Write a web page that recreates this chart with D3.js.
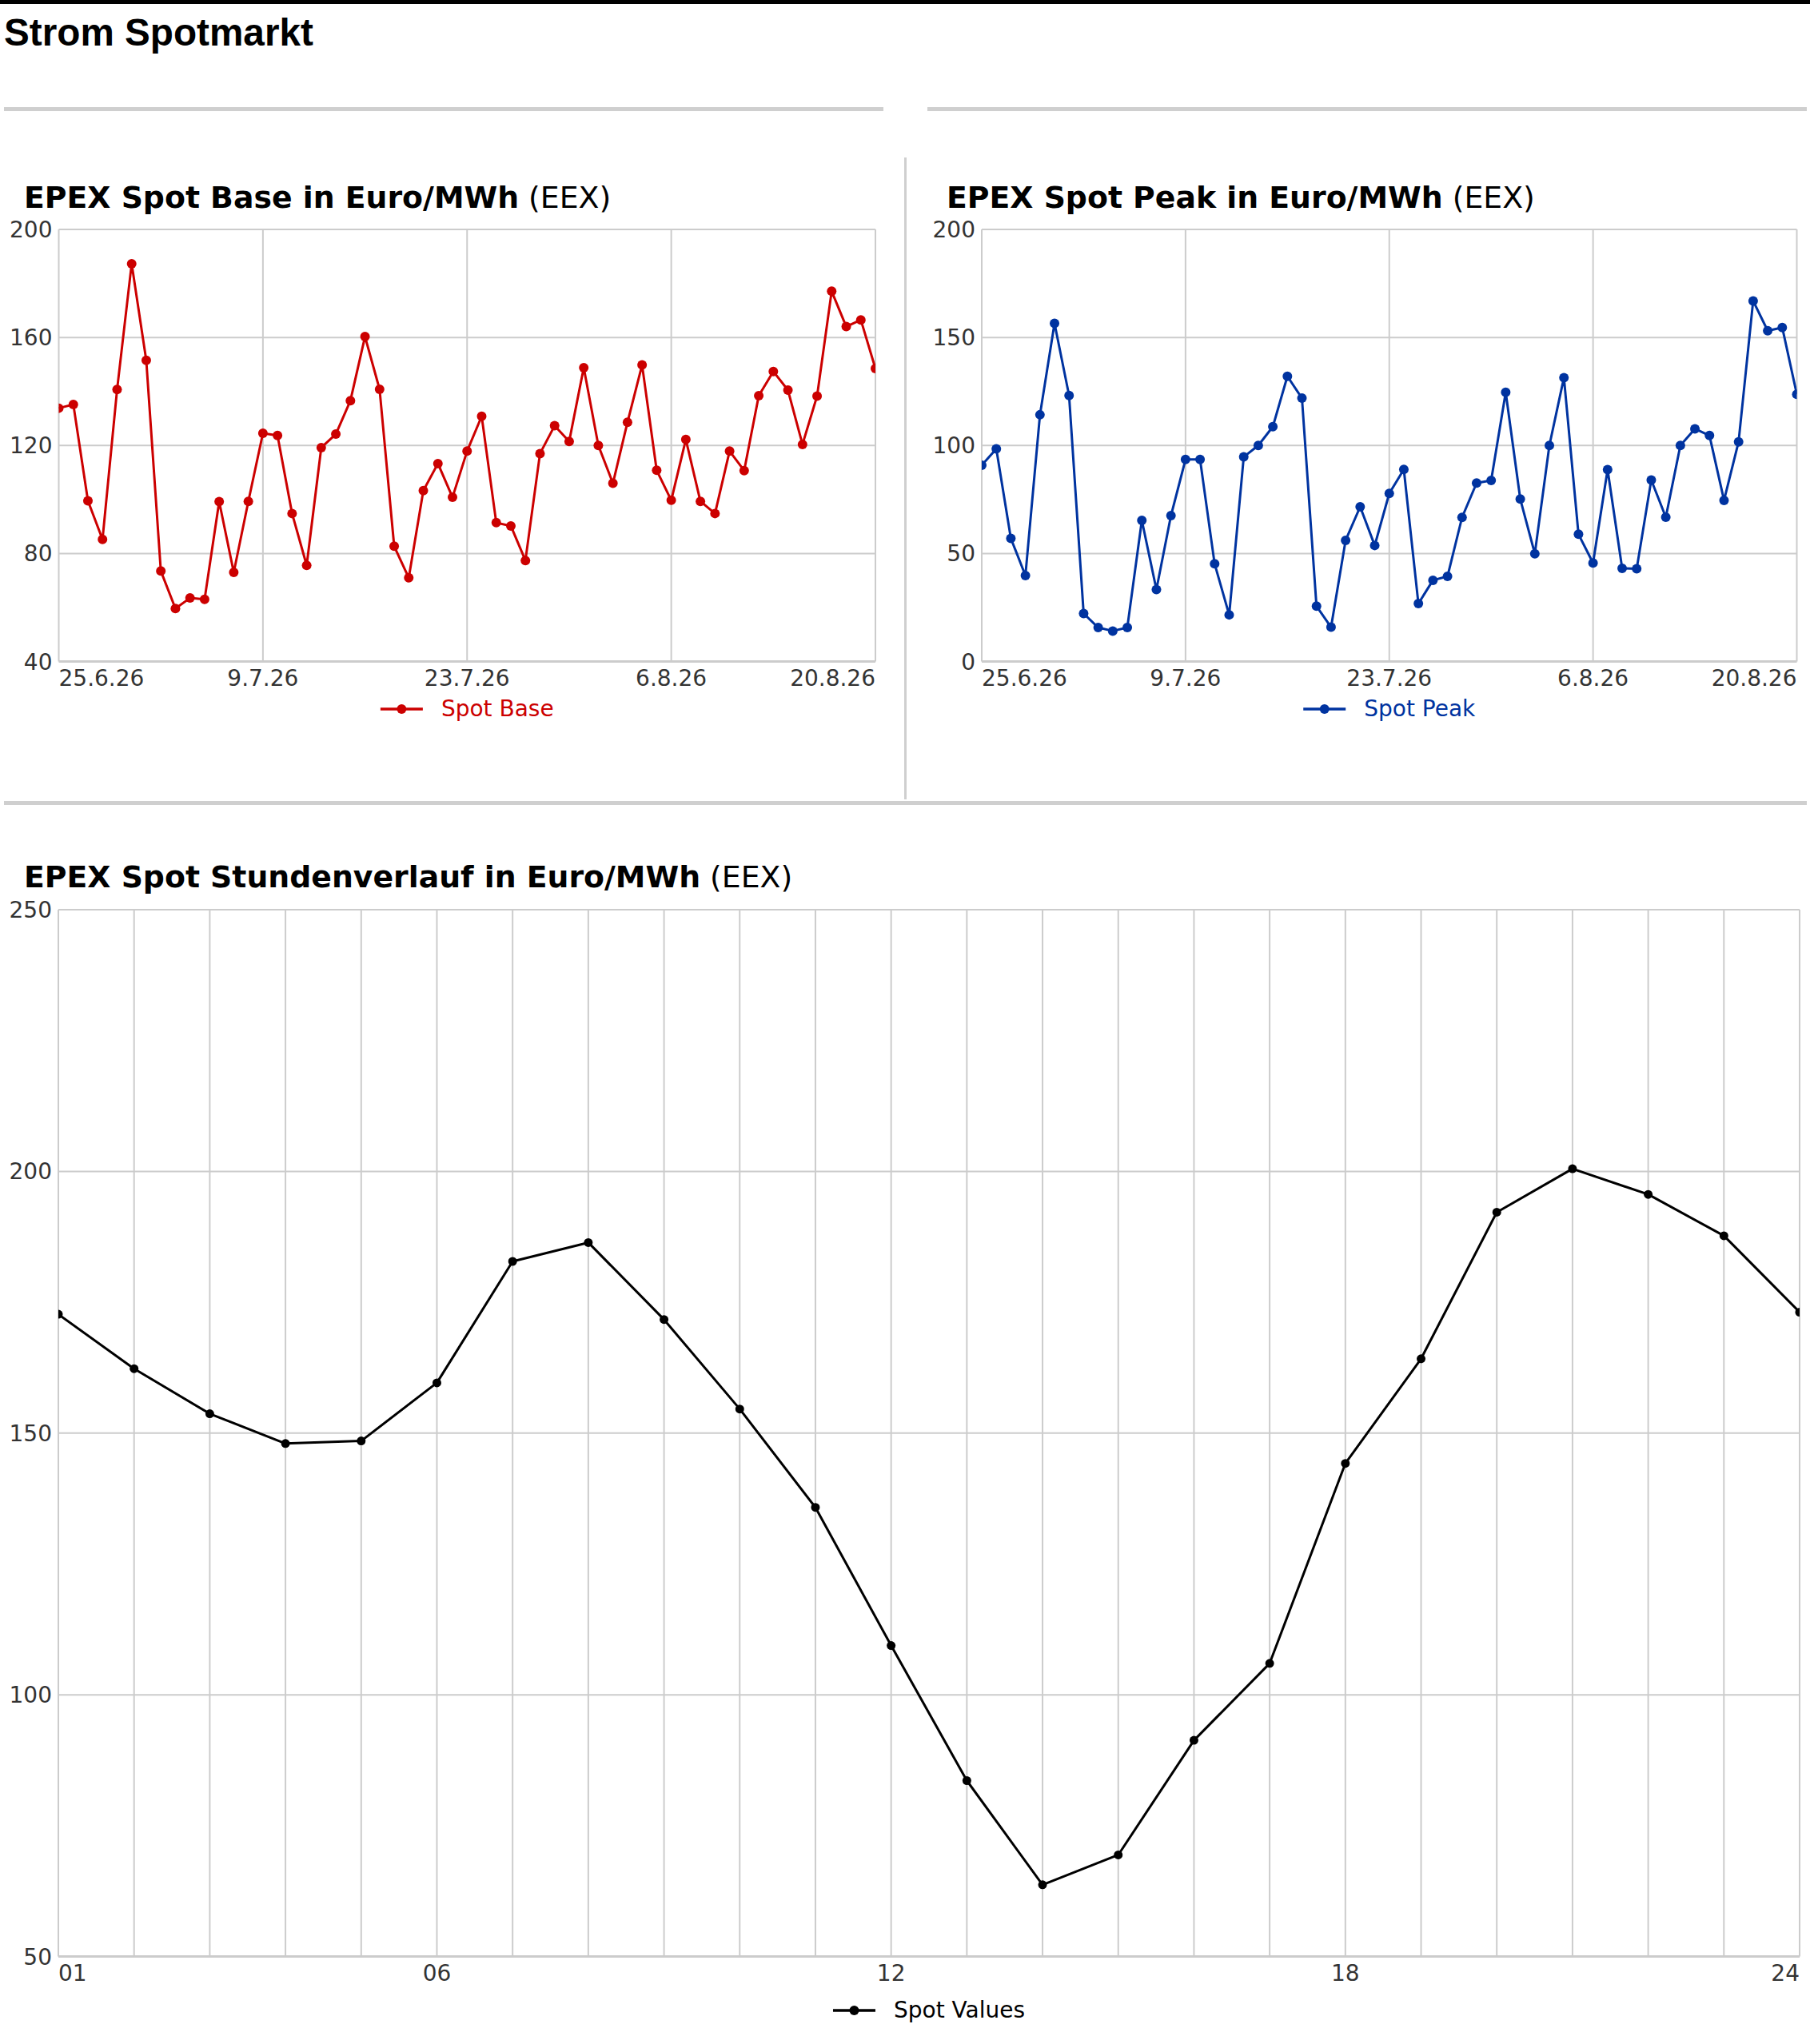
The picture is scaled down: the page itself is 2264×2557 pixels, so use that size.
<!DOCTYPE html>
<html>
<head>
<meta charset="utf-8">
<script src="https://cdn.jsdelivr.net/npm/d3@7"></script>
<style>
  body { margin: 0; background: #fff; }
  .tick-label { font-family: "DejaVu Sans", sans-serif; font-size: 28px; fill: #333; }
  .panel-title { font-family: "DejaVu Sans", sans-serif; font-size: 37.8px; fill: #000; }
  .legend-text { font-family: "DejaVu Sans", sans-serif; font-size: 28px; }
</style>
</head>
<body>
<div id="page"></div>
<script>
// Data
// =================================
var baseStart = new Date(2026, 5, 25);   // 25.6.26
var baseEnd = new Date(2026, 7, 20);     // 20.8.26
var dateTicks = [new Date(2026, 5, 25), new Date(2026, 6, 9), new Date(2026, 6, 23),
                 new Date(2026, 7, 6), new Date(2026, 7, 20)];

var baseValues = [133.8, 135.2, 99.5, 85.2, 140.7, 187.3, 151.5, 73.5, 59.6, 63.5,
                  63.0, 99.2, 73.0, 99.3, 124.5, 123.7, 94.8, 75.6, 119.2, 124.2,
                  136.6, 160.3, 140.8, 82.7, 71.0, 103.3, 113.3, 100.8, 117.9, 130.8,
                  91.4, 90.2, 77.4, 117.0, 127.3, 121.5, 148.8, 120.0, 106.0, 128.6,
                  149.8, 110.8, 99.7, 122.2, 99.3, 94.8, 117.9, 110.7, 138.4, 147.4,
                  140.5, 120.4, 138.3, 177.1, 164.0, 166.5, 148.5];

var peakValues = [90.8, 98.4, 57.0, 39.8, 114.2, 156.5, 123.1, 22.2, 15.7, 14.1,
                  15.7, 65.3, 33.3, 67.5, 93.5, 93.5, 45.2, 21.6, 94.7, 100.0,
                  108.7, 132.0, 121.9, 25.6, 15.9, 56.1, 71.6, 53.7, 77.8, 88.9,
                  26.8, 37.6, 39.4, 66.7, 82.6, 83.8, 124.6, 75.2, 49.9, 100.0,
                  131.4, 58.9, 45.6, 88.8, 43.1, 42.9, 84.0, 66.8, 100.0, 107.7,
                  104.6, 74.6, 101.7, 166.9, 153.1, 154.6, 123.7];

var hours = d3.range(1, 25);
var hourTicks = [1, 6, 12, 18, 24];
var hourValues = [172.7, 162.3, 153.7, 148.0, 148.5, 159.6, 182.8, 186.4, 171.7, 154.6,
                  135.8, 109.4, 83.6, 63.7, 69.4, 91.3, 106.0, 144.2, 164.2, 192.2,
                  200.5, 195.6, 187.7, 173.1];

var baseTicks = [40, 80, 120, 160, 200];
var peakTicks = [0, 50, 100, 150, 200];
var hourValueTicks = [50, 100, 150, 200, 250];

// Step 1: page wrapper
// =================================
var svgWidth = 2264;
var svgHeight = 2557;

var svg = d3.select("#page")
    .append("svg")
    .attr("width", svgWidth)
    .attr("height", svgHeight);

// top black rule and page title
svg.append("rect").attr("x", 0).attr("y", 0).attr("width", svgWidth).attr("height", 5).attr("fill", "#000");
svg.append("text")
    .attr("x", 5).attr("y", 57)
    .attr("font-family", "'Liberation Sans', Arial, sans-serif")
    .attr("font-weight", "bold")
    .attr("font-size", 47.7)
    .text("Strom Spotmarkt");

// grey separators
var sep = "#cfcfcf";
svg.append("rect").attr("x", 5).attr("y", 134).attr("width", 1100).attr("height", 5).attr("fill", sep);
svg.append("rect").attr("x", 1160).attr("y", 134).attr("width", 1100).attr("height", 5).attr("fill", sep);
svg.append("rect").attr("x", 1131).attr("y", 197).attr("width", 3).attr("height", 803).attr("fill", sep);
svg.append("rect").attr("x", 5).attr("y", 1002).attr("width", 2255).attr("height", 5).attr("fill", sep);

// Step 2: one function per chart panel
// =================================
function drawPanel(opt) {
    var g = svg.append("g");

    // title: bold part + normal "(EEX)"
    var title = g.append("text")
        .attr("class", "panel-title")
        .attr("x", opt.titleX)
        .attr("y", opt.titleY);
    title.append("tspan").attr("font-weight", "bold").text(opt.title);
    title.append("tspan").text(" (EEX)");

    var x = opt.xScale;
    var y = d3.scaleLinear()
        .domain(opt.yDomain)
        .range([opt.bottom, opt.top]);

    // horizontal grid
    g.append("g").selectAll("line")
        .data(opt.yTicks)
        .enter()
        .append("line")
        .attr("x1", opt.left).attr("x2", opt.right)
        .attr("y1", d => y(d)).attr("y2", d => y(d))
        .attr("stroke", "#cccccc")
        .attr("stroke-width", (d, i) => i === 0 ? 3 : 2);

    // vertical grid
    g.append("g").selectAll("line")
        .data(opt.xGrid)
        .enter()
        .append("line")
        .attr("x1", d => x(d)).attr("x2", d => x(d))
        .attr("y1", opt.top).attr("y2", opt.bottom)
        .attr("stroke", "#cccccc")
        .attr("stroke-width", 2);

    // y labels
    g.append("g").selectAll("text")
        .data(opt.yTicks)
        .enter()
        .append("text")
        .attr("class", "tick-label")
        .attr("x", opt.left - 8)
        .attr("y", d => y(d))
        .attr("dy", "0.36em")
        .attr("text-anchor", "end")
        .text(d => d);

    // x labels: first starts at the left edge, last ends at the right edge
    var n = opt.xTicks.length;
    g.append("g").selectAll("text")
        .data(opt.xTicks)
        .enter()
        .append("text")
        .attr("class", "tick-label")
        .attr("x", d => x(d))
        .attr("y", opt.bottom + 30)
        .attr("text-anchor", (d, i) => i === 0 ? "start" : (i === n - 1 ? "end" : "middle"))
        .text(opt.xFormat);

    // clip the series to the plot area
    var clipId = "clip-" + opt.id;
    svg.append("clipPath").attr("id", clipId)
        .append("rect")
        .attr("x", opt.left).attr("y", opt.top - 10)
        .attr("width", opt.right - opt.left)
        .attr("height", opt.bottom - opt.top + 20);

    var series = g.append("g").attr("clip-path", "url(#" + clipId + ")");

    var line = d3.line()
        .x(d => x(d[0]))
        .y(d => y(d[1]));

    series.append("path")
        .datum(opt.points)
        .attr("d", line)
        .attr("fill", "none")
        .attr("stroke", opt.color)
        .attr("stroke-width", opt.lineWidth)
        .attr("stroke-linejoin", "round");

    series.selectAll("circle")
        .data(opt.points)
        .enter()
        .append("circle")
        .attr("cx", d => x(d[0]))
        .attr("cy", d => y(d[1]))
        .attr("r", opt.radius)
        .attr("fill", opt.color);

    // legend centred under the plot
    var leg = g.append("g");
    var legText = leg.append("text")
        .attr("class", "legend-text")
        .attr("x", 76)
        .attr("y", 9)
        .attr("fill", opt.legendColor)
        .text(opt.legend);
    leg.append("line")
        .attr("x1", 0).attr("x2", 53)
        .attr("y1", 0).attr("y2", 0)
        .attr("stroke", opt.color)
        .attr("stroke-width", 3.5);
    leg.append("circle")
        .attr("cx", 26.5).attr("cy", 0)
        .attr("r", 6)
        .attr("fill", opt.color);
    var legWidth = 76 + legText.node().getComputedTextLength();
    var cx = (opt.left + opt.right) / 2;
    leg.attr("transform", `translate(${cx - legWidth / 2}, ${opt.legendY})`);
}

// Step 3: the two daily charts
// =================================
var days = d3.timeDay.range(baseStart, d3.timeDay.offset(baseEnd, 1));
var dateFormat = d3.timeFormat("%-d.%-m.%y");

var leftX = d3.scaleTime().domain([baseStart, baseEnd]).range([73.5, 1095]);
drawPanel({
    id: "base",
    title: "EPEX Spot Base in Euro/MWh",
    titleX: 30, titleY: 260,
    left: 73.5, right: 1095, top: 287, bottom: 827.5,
    xScale: leftX,
    xTicks: dateTicks, xGrid: dateTicks, xFormat: dateFormat,
    yDomain: [40, 200], yTicks: baseTicks,
    points: days.map((d, i) => [d, baseValues[i]]),
    color: "#cc0000", legendColor: "#cc0000",
    lineWidth: 3, radius: 6,
    legend: "Spot Base", legendY: 887
});

var rightX = d3.scaleTime().domain([baseStart, baseEnd]).range([1228, 2247.5]);
drawPanel({
    id: "peak",
    title: "EPEX Spot Peak in Euro/MWh",
    titleX: 1184, titleY: 260,
    left: 1228, right: 2247.5, top: 287, bottom: 827.5,
    xScale: rightX,
    xTicks: dateTicks, xGrid: dateTicks, xFormat: dateFormat,
    yDomain: [0, 200], yTicks: peakTicks,
    points: days.map((d, i) => [d, peakValues[i]]),
    color: "#0033a0", legendColor: "#0033a0",
    lineWidth: 3, radius: 6,
    legend: "Spot Peak", legendY: 887
});

// Step 4: hourly profile
// =================================
var hourX = d3.scaleLinear().domain([1, 24]).range([73, 2251]);
drawPanel({
    id: "hours",
    title: "EPEX Spot Stundenverlauf in Euro/MWh",
    titleX: 30, titleY: 1110,
    left: 73, right: 2251, top: 1138, bottom: 2447.5,
    xScale: hourX,
    xTicks: hourTicks, xGrid: hours, xFormat: d => d3.format("02d")(d),
    yDomain: [50, 250], yTicks: hourValueTicks,
    points: hours.map((h, i) => [h, hourValues[i]]),
    color: "#000000", legendColor: "#000000",
    lineWidth: 3, radius: 5.5,
    legend: "Spot Values", legendY: 2515
});
</script>
</body>
</html>
